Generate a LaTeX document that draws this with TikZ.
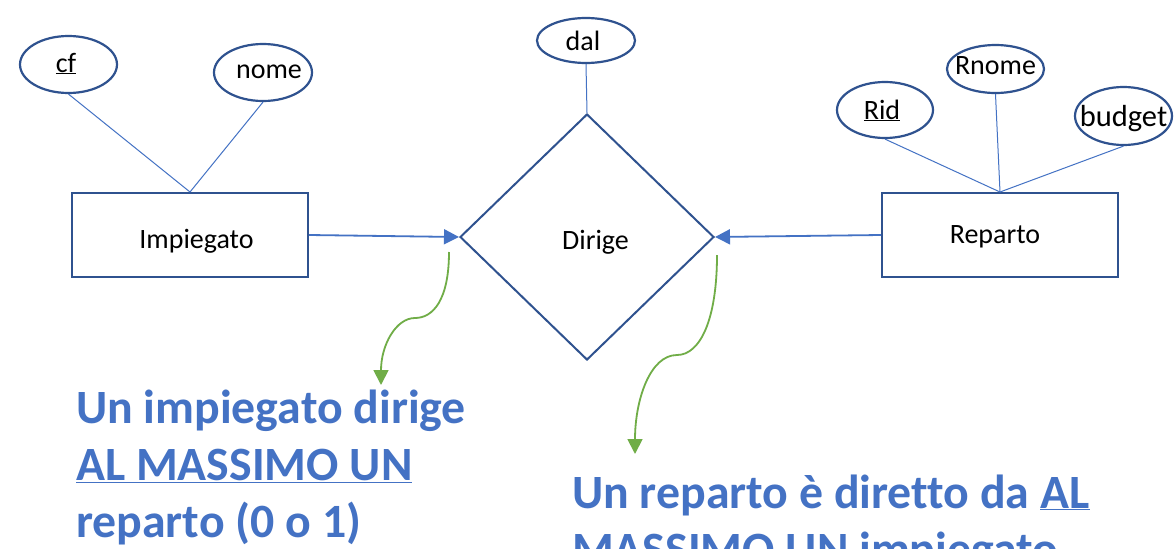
\documentclass[tikz,border=0pt]{standalone}
\usepackage{fontspec}
\setmainfont[Ligatures=NoCommon]{Carlito}
\usetikzlibrary{shapes.geometric,arrows.meta}
\definecolor{dblue}{HTML}{2F528F}
\definecolor{lblue}{HTML}{4472C4}
\definecolor{lgreen}{HTML}{70AD47}
\newcommand{\thickul}[1]{\tikz[baseline=(ulx.base)]{\node[inner sep=0pt] (ulx) {#1};\fill (ulx.base west)++(0,-7.2pt) rectangle ([yshift=-9.8pt]ulx.base east);}}
\begin{document}
\begin{tikzpicture}[x=1pt,y=-1pt,
  attr/.style={ellipse,draw=dblue,line width=2.2pt,inner sep=0pt},
  entity/.style={rectangle,draw=dblue,line width=2pt,minimum width=236pt,minimum height=84pt,inner sep=0pt},
  rel/.style={diamond,draw=dblue,line width=2pt,minimum width=254pt,minimum height=246pt,inner sep=0pt},
  lbl/.style={anchor=base,inner sep=0pt,font=\fontsize{28}{32}\selectfont},
  link/.style={draw=lblue,line width=1pt},
  card/.style={draw=lblue,line width=1.8pt,-{Triangle[length=15pt,width=15pt]}},
  note/.style={draw=lgreen,line width=1.8pt,-{Triangle[length=15pt,width=15pt]}},
  remark/.style={text=lblue,font=\bfseries\fontsize{47.8}{57}\selectfont,anchor=base west,inner sep=0pt}]
\useasboundingbox (0,0) rectangle (1176,549);
\clip (0,0) rectangle (1176,549);
\fill[white] (0,0) rectangle (1176,549);

% entities and relationship
\node[entity] (imp) at (190,235) {};
\node[entity] (rep) at (1000,235) {};
\node[rel] (dir) at (587,237) {};
\node[lbl] (impt) at (196.5,248) {Impiegato};
\node[lbl] (rept) at (995,243) {Reparto};
\node[lbl] (dirt) at (595.5,249) {Dirige};

% attributes
\node[attr,minimum width=97pt,minimum height=57pt] (cf) at (68.5,64.5) {};
\node[attr,minimum width=98pt,minimum height=57pt] (nome) at (263,72.5) {};
\node[attr,minimum width=98pt,minimum height=45pt] (dal) at (586,40.5) {};
\node[attr,minimum width=96pt,minimum height=56pt] (rid) at (885,110) {};
\node[attr,minimum width=97pt,minimum height=48pt] (rnome) at (995.5,69) {};
\node[attr,minimum width=97pt,minimum height=58pt] (budget) at (1123.5,116) {};
\node[lbl] (cft) at (66,72) {\underline{cf}};
\node[lbl] (nomet) at (269,78) {nome};
\node[lbl] (dalt) at (583,50) {dal};
\node[lbl] (ridt) at (882,119) {\underline{Rid}};
\node[lbl] (rnomet) at (995.5,74) {Rnome};
\node[lbl,font=\fontsize{30.5}{34}\selectfont] (budgett) at (1123.5,126) {budget};

% attribute links
\draw[link] (cf.south) -- (imp.north);
\draw[link] (nome.south) -- (imp.north);
\draw[link] (dal.south) -- (dir.north);
\draw[link] (rid.south) -- (rep.north);
\draw[link] (rnome.south) -- (rep.north);
\draw[link] (budget.south) -- (rep.north);

% cardinality arrows
\draw[card] (imp.east) -- (dir.west);
\draw[card] (rep.west) -- (dir.east);

% green annotation arrows
\coordinate (g1s) at (449,252);
\coordinate (g1e) at (381,385);
\coordinate (g2s) at (717,255);
\coordinate (g2e) at (635,454);
\draw[note] (g1s) .. controls (449,300) and (433,318) .. (415,318)
              .. controls (396,318) and (381,345) .. (g1e);
\draw[note] (g2s) .. controls (717,320) and (700,355) .. (677,355)
              .. controls (650,355) and (635,400) .. (g2e);

% remarks
\node[remark] (l1) at (76,423) {Un impiegato dirige};
\node[remark] (l2) at (76,480) {\underline{AL MASSIMO UN}};
\node[remark] (l3) at (76,537) {reparto (0 o 1)};
\node[remark] (r1) at (572,508) {Un reparto è diretto da \underline{AL}};
\node[remark] (r2) at (572,565) {\underline{MASSIMO UN} impiegato};
\end{tikzpicture}
\end{document}
